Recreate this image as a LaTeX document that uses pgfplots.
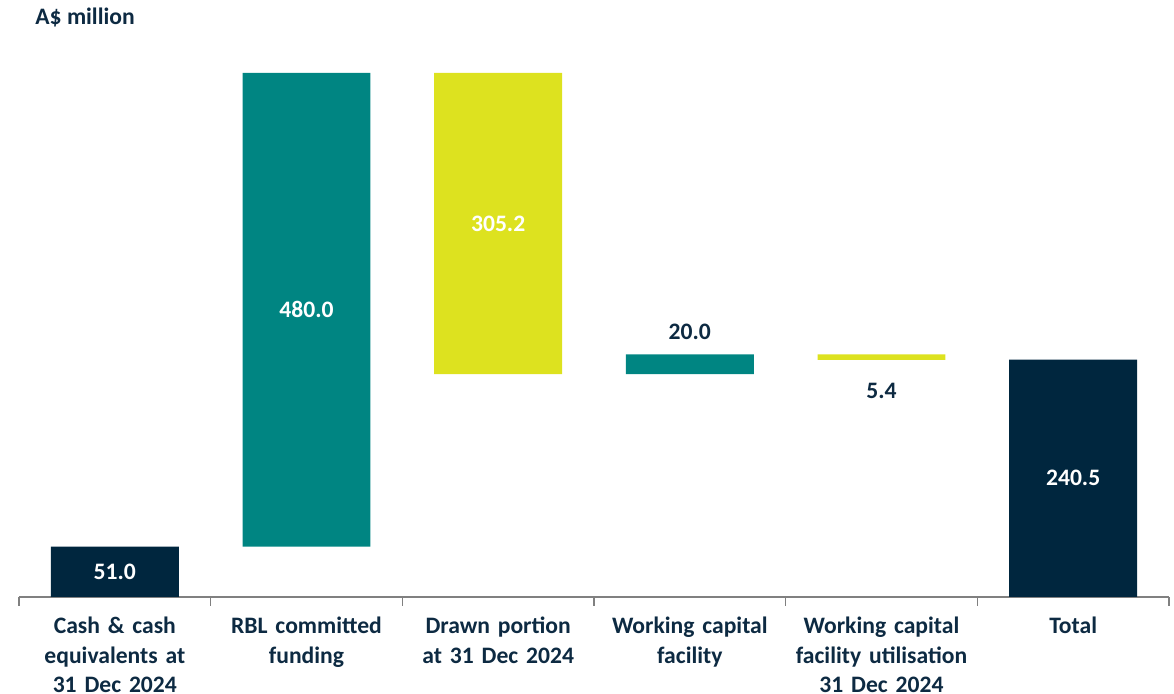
\documentclass[border=0pt]{standalone}
\usepackage{fontspec}
\setmainfont{Carlito}
\usepackage{pgfplots}
\pgfplotsset{compat=1.18}
\definecolor{navy}{HTML}{00263E}
\definecolor{teal}{HTML}{008582}
\definecolor{lime}{HTML}{DDE21F}
\definecolor{txt}{HTML}{0D2A42}
\definecolor{axgray}{HTML}{808080}
\begin{document}
\begin{tikzpicture}[font=\bfseries\fontsize{11.8}{14.8}\selectfont]
\useasboundingbox (0,0) rectangle (587pt,347pt);
\node[anchor=base west, text=txt, inner sep=0pt] at (17.5pt,334.5pt) {A\$ million};
\begin{axis}[
  at={(9.5pt,48.5pt)}, anchor=south west,
  scale only axis, width=575pt, height=262pt,
  xmin=-0.5, xmax=5.5, ymin=0, ymax=531,
  enlargelimits=false, clip=false,
  axis x line=bottom, axis y line=none,
  axis line style={draw=axgray, line width=0.75pt, -},
  ybar stacked, bar width=0.667,
  xtick={0,1,2,3,4,5},
  xticklabels={{Cash \& cash\\equivalents at\\31 Dec 2024},{RBL committed\\funding},{Drawn portion\\at 31 Dec 2024},{Working capital\\facility},{Working capital\\facility utilisation\\31 Dec 2024},{Total}},
  major tick length=0pt,
  minor xtick={-0.5,0.5,1.5,2.5,3.5,4.5,5.5},
  minor tick length=4.5pt, tick align=outside,
  minor tick style={draw=axgray, line width=0.75pt},
  xticklabel style={text=txt, align=center, text width=100pt, anchor=north, yshift=-6.5pt},
  after end axis/.code={
    \node[text=white] at (axis cs:0,25.5) {51.0};
    \node[text=white] at (axis cs:1,291) {480.0};
    \node[text=white] at (axis cs:2,378.4) {305.2};
    \node[text=txt] at (axis cs:3,268.5) {20.0};
    \node[text=txt] at (axis cs:4,208.7) {5.4};
    \node[text=white] at (axis cs:5,120.25) {240.5};
  },
]
\addplot[draw=none, fill=none, forget plot] coordinates {(0,0) (1,51) (2,225.8) (3,225.8) (4,240.4) (5,0)};
\addplot[draw=none, fill=navy] coordinates {(0,51) (1,0) (2,0) (3,0) (4,0) (5,240.5)};
\addplot[draw=none, fill=teal] coordinates {(0,0) (1,480) (2,0) (3,20) (4,0) (5,0)};
\addplot[draw=none, fill=lime] coordinates {(0,0) (1,0) (2,305.2) (3,0) (4,5.4) (5,0)};
\end{axis}
\end{tikzpicture}
\end{document}
